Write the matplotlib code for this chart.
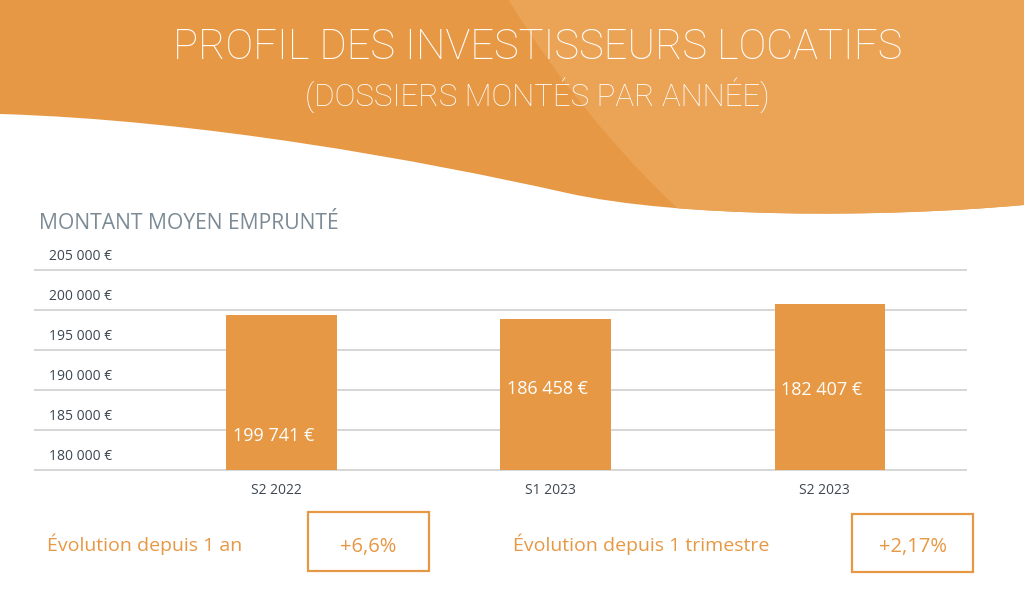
import numpy as np
import matplotlib
matplotlib.use("Agg")
import matplotlib.pyplot as plt
from matplotlib.patches import Rectangle, Circle, PathPatch
from matplotlib.path import Path
from matplotlib.transforms import ScaledTranslation

# Données
categories = ['S2 2022', 'S1 2023', 'S2 2023']
montants_barres = [199400, 198850, 200700]
etiquettes_barres = ['199 741 €', '186 458 €', '182 407 €']
graduations = [180000, 185000, 190000, 195000, 200000, 205000]
etiquettes_graduations = ['180 000 €', '185 000 €', '190 000 €',
                          '195 000 €', '200 000 €', '205 000 €']
libelles_evolution = ['Évolution depuis 1 an', 'Évolution depuis 1 trimestre']
valeurs_evolution = ['+6,6%', '+2,17%']

# Mise en forme
ORANGE = '#e79844'
ORANGE_CLAIR = '#eba356'
GRIS_TEXTE = '#3d4852'
GRIS_TITRE = '#7c8b96'
POLICE = 'Open Sans'
pos_y_etiquettes = [184300, 190100, 190000]

plt.rcParams['font.family'] = [POLICE, 'DejaVu Sans']

fig = plt.figure(figsize=(10.24, 5.96), dpi=100)

# Fond : vague orange en haut (coordonnées en pixels)
fond = fig.add_axes([0, 0, 1, 1], zorder=0)
fond.set_xlim(0, 1024)
fond.set_ylim(596, 0)
fond.axis('off')

sommets = [(0, 0), (0, 114),
           (200, 120), (420, 160), (567, 193),
           (680, 218), (880, 218), (1024, 205),
           (1024, 0), (0, 0)]
codes = [Path.MOVETO, Path.LINETO,
         Path.CURVE4, Path.CURVE4, Path.CURVE4,
         Path.CURVE4, Path.CURVE4, Path.CURVE4,
         Path.LINETO, Path.CLOSEPOLY]
vague = PathPatch(Path(sommets, codes), facecolor=ORANGE, edgecolor='none')
fond.add_patch(vague)
cercle = Circle((1392, -543), 1037, facecolor=ORANGE_CLAIR, edgecolor='none')
fond.add_patch(cercle)
cercle.set_clip_path(vague)

fond.text(538, 59, 'PROFIL DES INVESTISSEURS LOCATIFS', color='white',
          fontsize=30, fontweight='light', ha='center', va='baseline',
          family=['Roboto', 'DejaVu Sans'])
fond.text(537, 106, '(DOSSIERS MONTÉS PAR ANNÉE)', color='white',
          fontsize=22.5, fontweight='light', ha='center', va='baseline',
          family=['Roboto', 'DejaVu Sans'])

fond.text(39, 229, 'MONTANT MOYEN EMPRUNTÉ', color=GRIS_TITRE,
          fontsize=15.2, ha='left', va='baseline')

# Encadrés d'évolution
positions_libelles = [47, 513]
cadres = [(308, 512, 121, 59), (852, 514, 121, 58)]
for libelle, valeur, x_lib, (cx, cy, cw, ch) in zip(
        libelles_evolution, valeurs_evolution, positions_libelles, cadres):
    fond.text(x_lib, 551, libelle, color=ORANGE, fontsize=14,
              ha='left', va='baseline')
    fond.add_patch(Rectangle((cx, cy), cw, ch, facecolor='none',
                             edgecolor=ORANGE, linewidth=1.6))
    fond.text(cx + cw / 2, 552, valeur, color=ORANGE, fontsize=14.5,
              ha='center', va='baseline')

# Graphique en barres
ax = fig.add_axes([34 / 1024, 1 - 470 / 596, 933 / 1024, 200 / 596], zorder=1)
ax.patch.set_alpha(0)
x = np.arange(len(categories))
ax.bar(x, montants_barres, width=0.405, color=ORANGE, zorder=3)
ax.set_xlim(-0.905, 2.5)
ax.set_ylim(graduations[0], graduations[-1])
ax.hlines(graduations, -0.905, 2.5, color='#d3d3d3', linewidth=1.3,
          clip_on=False, zorder=1)
for s in ax.spines.values():
    s.set_visible(False)
ax.set_yticks([])
ax.set_xticks(x)
ax.set_xticklabels(categories, color=GRIS_TEXTE, fontsize=10)
ax.tick_params(axis='x', length=0, pad=9)
decalage = ScaledTranslation(-6 / 100, 0, fig.dpi_scale_trans)
for lab in ax.get_xticklabels():
    lab.set_transform(lab.get_transform() + decalage)

for val, txt in zip(graduations, etiquettes_graduations):
    ax.annotate(txt, xy=(0.0836, val), xycoords=ax.get_yaxis_transform(),
                xytext=(0, 9.4), textcoords='offset points',
                ha='right', va='center', color=GRIS_TEXTE, fontsize=10)

for xi, ypos, txt in zip(x, pos_y_etiquettes, etiquettes_barres):
    ax.annotate(txt, xy=(xi, ypos), xytext=(-6, 0), textcoords='offset points',
                ha='center', va='center', color='white', fontsize=13, zorder=4)

fig.savefig('out.png', dpi=100)
